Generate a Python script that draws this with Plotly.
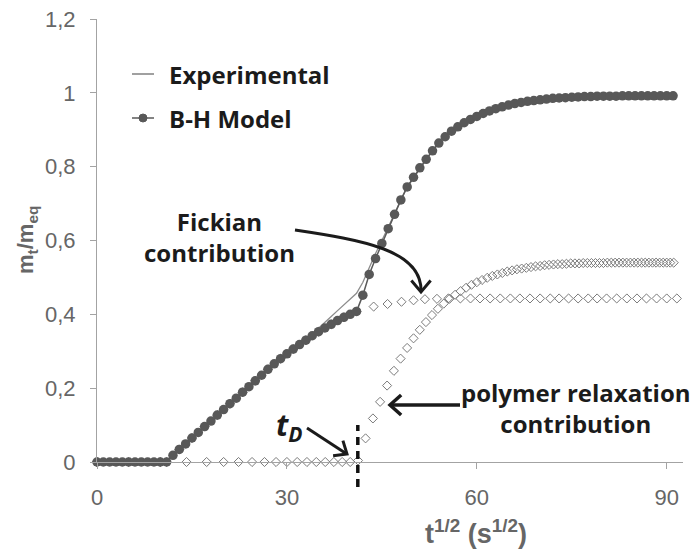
import math
import plotly.graph_objects as go

# ---------------------------------------------------------------- data
# B-H model, sampled at integer t^1/2 (s^1/2)
bh_x = list(range(0, 92))
bh_y = [0, 0, 0, 0, 0, 0, 0, 0, 0, 0, 0, 0,
        0.018, 0.034, 0.049, 0.065, 0.080, 0.096, 0.111, 0.127, 0.142, 0.158,
        0.173, 0.189, 0.204, 0.220, 0.235, 0.251, 0.266, 0.280, 0.293, 0.306,
        0.318, 0.330, 0.342, 0.353, 0.363, 0.373, 0.383, 0.392, 0.400, 0.408,
        0.452, 0.508, 0.551, 0.592, 0.632, 0.671, 0.710, 0.745, 0.771, 0.797,
        0.820, 0.843, 0.864, 0.881, 0.896, 0.908, 0.919, 0.928, 0.936, 0.944,
        0.951, 0.957, 0.962, 0.967, 0.971, 0.974, 0.977, 0.979, 0.981, 0.983,
        0.985, 0.986, 0.987, 0.988, 0.989, 0.990, 0.990, 0.991, 0.991, 0.991,
        0.991, 0.992, 0.992, 0.992, 0.992, 0.992, 0.992, 0.992, 0.992, 0.992]

# Experimental uptake
exp_x = list(range(0, 92))
exp_y = [0, 0, 0, 0, 0, 0, 0, 0, 0, 0, 0, 0,
         0.018, 0.034, 0.049, 0.065, 0.080, 0.096, 0.111, 0.127, 0.142, 0.158,
         0.173, 0.189, 0.204, 0.220, 0.235, 0.251, 0.266, 0.280, 0.293, 0.306,
         0.318, 0.332, 0.347, 0.362, 0.378, 0.394, 0.410, 0.425, 0.440, 0.457,
         0.487, 0.527, 0.565, 0.600, 0.636, 0.672, 0.710, 0.745, 0.771, 0.797,
         0.820, 0.843, 0.864, 0.881, 0.896, 0.908, 0.919, 0.928, 0.936, 0.944,
         0.951, 0.957, 0.962, 0.967, 0.971, 0.974, 0.977, 0.979, 0.981, 0.983,
         0.985, 0.986, 0.987, 0.988, 0.989, 0.990, 0.990, 0.991, 0.991, 0.991,
         0.991, 0.992, 0.992, 0.992, 0.992, 0.992, 0.992, 0.992, 0.992, 0.992]

# Polymer relaxation contribution, sampled every 100 s
relax_t = list(range(0, 8400, 100))
relax_x = [math.sqrt(t) for t in relax_t]
relax_y = [0, 0, 0, 0, 0, 0, 0, 0, 0, 0, 0, 0, 0, 0, 0, 0, 0,
           0.004, 0.064, 0.118, 0.163, 0.207, 0.247, 0.280, 0.309, 0.335, 0.358,
           0.379, 0.398, 0.415, 0.429, 0.442, 0.453, 0.463, 0.472, 0.480, 0.487,
           0.493, 0.499, 0.504, 0.508, 0.512, 0.516, 0.519, 0.522, 0.524, 0.526,
           0.528, 0.530, 0.531, 0.533, 0.534, 0.535, 0.536, 0.536, 0.537, 0.538,
           0.538, 0.538, 0.539, 0.539,
           0.539, 0.539, 0.539, 0.539, 0.540, 0.540, 0.540, 0.540, 0.540, 0.540,
           0.540, 0.540, 0.540, 0.540, 0.540, 0.540, 0.540, 0.540, 0.540, 0.540,
           0.540, 0.540, 0.540]

# Fickian contribution
fick_x = [0, 5, 10, 11, 13, 15, 17, 19, 21, 23, 25, 27, 29, 31, 33, 35, 37, 39, 41,
          43.7, 45.9, 48.1, 50.0, 51.8, 53.7, 55.5, 57.4, 59.0, 60.5, 62.1, 63.7,
          65.3, 66.8, 68.4, 70.0, 71.6, 73.0, 74.5, 76.0, 77.6, 79.0, 80.5, 82.1,
          83.7, 85.3, 86.8, 88.4, 90.0, 91.6]
fick_y = [0, 0, 0, 0, 0.034, 0.065, 0.096, 0.127, 0.158, 0.189, 0.220, 0.251,
          0.280, 0.306, 0.330, 0.353, 0.373, 0.392, 0.408,
          0.421, 0.428, 0.434, 0.438, 0.441, 0.442, 0.443, 0.443, 0.443, 0.443,
          0.443, 0.443, 0.443, 0.443, 0.443, 0.443, 0.443, 0.443, 0.443, 0.443,
          0.443, 0.443, 0.443, 0.443, 0.443, 0.443, 0.443, 0.443, 0.443, 0.443]

t_D = 41.2  # onset of relaxation, s^1/2

x_ticks = [0, 30, 60, 90]
y_ticks = [0, 0.2, 0.4, 0.6, 0.8, 1.0, 1.2]
y_tick_text = ["0", "0,2", "0,4", "0,6", "0,8", "1", "1,2"]

# ---------------------------------------------------------------- layout helpers
W, H = 691, 551
ML, MR, MT, MB = 97, 8, 19, 89
PL, PR, PT, PB = ML, W - MR, MT, H - MB


def fx(p):
    return (p - PL) / (PR - PL)


def fy(p):
    return (PB - p) / (PB - PT)


def pt(x, y):
    return f"{fx(x):.5f},{fy(y):.5f}"


def chevron(tip, frm, arm=14, ang=40):
    dx, dy = tip[0] - frm[0], tip[1] - frm[1]
    n = math.hypot(dx, dy)
    ux, uy = dx / n, dy / n
    pts = []
    for s in (1, -1):
        a = math.radians(ang * s)
        rx = ux * math.cos(a) - uy * math.sin(a)
        ry = ux * math.sin(a) + uy * math.cos(a)
        pts.append((tip[0] - arm * rx, tip[1] - arm * ry))
    return f"M {pt(*pts[0])} L {pt(*tip)} L {pt(*pts[1])}"


INK = "#1b1b1b"
GREY_TXT = "#666666"
AXIS = "#a3a3a3"

fig = go.Figure()

fig.add_trace(go.Scatter(
    x=fick_x, y=fick_y, mode="markers", name="Fickian",
    marker=dict(symbol="diamond-open", size=7, color="#7a7a7a",
                line=dict(width=1, color="#7a7a7a")),
    cliponaxis=False))
fig.add_trace(go.Scatter(
    x=relax_x, y=relax_y, mode="markers", name="Relaxation",
    marker=dict(symbol="diamond-open", size=7, color="#7a7a7a",
                line=dict(width=1, color="#7a7a7a")),
    cliponaxis=False))
fig.add_trace(go.Scatter(
    x=exp_x, y=exp_y, mode="lines", name="Experimental",
    line=dict(color="#8c8c8c", width=1.3), cliponaxis=False))
fig.add_trace(go.Scatter(
    x=bh_x, y=bh_y, mode="lines+markers", name="B-H Model",
    line=dict(color="#5a5a5a", width=1.5),
    marker=dict(symbol="circle", size=9.5, color="#585858"),
    cliponaxis=False))

shapes = []
# t_D marker line
shapes.append(dict(type="line", xref="x", yref="paper", x0=t_D, x1=t_D,
                   y0=fy(487), y1=fy(425),
                   line=dict(color="#111111", width=3.5, dash="8px,6px")))

# legend glyphs
shapes.append(dict(type="line", xref="paper", yref="paper",
                   x0=fx(132), x1=fx(154), y0=fy(74), y1=fy(74),
                   line=dict(color="#a0a0a0", width=2)))
shapes.append(dict(type="line", xref="paper", yref="paper",
                   x0=fx(132), x1=fx(154), y0=fy(118), y1=fy(118),
                   line=dict(color="#5a5a5a", width=1.5)))
shapes.append(dict(type="circle", xref="paper", yref="paper",
                   x0=fx(139), x1=fx(147), y0=fy(114), y1=fy(122),
                   fillcolor="#585858", line=dict(color="#585858", width=1)))

# Fickian arrow (curved)
arrow_line = dict(color=INK, width=3)
shapes.append(dict(type="path", xref="paper", yref="paper",
                   path=f"M {pt(295, 230)} C {pt(362, 240)} {pt(421, 250)} {pt(421, 290)}",
                   line=arrow_line))
shapes.append(dict(type="path", xref="paper", yref="paper",
                   path=chevron((421, 292), (421, 270), arm=15, ang=40), line=arrow_line))
# relaxation arrow
shapes.append(dict(type="path", xref="paper", yref="paper",
                   path=f"M {pt(460, 405)} L {pt(391, 405)}", line=dict(color=INK, width=3.5)))
shapes.append(dict(type="path", xref="paper", yref="paper",
                   path=chevron((390, 405), (460, 405), arm=15, ang=42),
                   line=dict(color=INK, width=3.5)))
# t_D arrow
shapes.append(dict(type="path", xref="paper", yref="paper",
                   path=f"M {pt(307, 428)} L {pt(346, 453.5)}", line=arrow_line))
shapes.append(dict(type="path", xref="paper", yref="paper",
                   path=chevron((347, 454), (307, 428), arm=14, ang=40), line=arrow_line))

LBL = dict(family="Open Sans", size=24, color=INK)
annotations = [
    dict(text="<b>Experimental</b>", x=fx(167), y=fy(74), xanchor="left", yanchor="middle",
         font=LBL),
    dict(text="<b>B-H Model</b>", x=fx(167), y=fy(118), xanchor="left", yanchor="middle",
         font=LBL),
    dict(text="<b>Fickian</b><br><b>contribution</b>", x=fx(219), y=fy(237),
         xanchor="center", yanchor="middle", font=LBL),
    dict(text="<b>polymer relaxation</b><br><b>contribution</b>", x=fx(576), y=fy(408),
         xanchor="center", yanchor="middle", font=LBL),
    dict(text="<b><i>t<sub>D</sub></i></b>", x=fx(274), y=fy(426), xanchor="left",
         yanchor="middle", font=dict(family="Open Sans", size=30, color=INK)),
    dict(text="<b>t<sup>1/2</sup> (s<sup>1/2</sup>)</b>", x=fx(476), y=fy(532),
         xanchor="center", yanchor="middle",
         font=dict(family="Liberation Sans Narrow, Liberation Sans", size=27, color=GREY_TXT)),
    dict(text="<b>m<sub>t</sub>/m<sub>eq</sub></b>", x=fx(27), y=fy(240), textangle=-90,
         xanchor="center", yanchor="middle",
         font=dict(family="Liberation Sans", size=22, color=GREY_TXT)),
]
for a in annotations:
    a.update(xref="paper", yref="paper", showarrow=False)

tickfont = dict(family="Liberation Sans, Arial", size=22, color=GREY_TXT)
fig.update_layout(
    width=W, height=H,
    margin=dict(l=ML, r=MR, t=MT, b=MB, pad=0),
    paper_bgcolor="white", plot_bgcolor="white",
    showlegend=False,
    shapes=shapes, annotations=annotations,
    xaxis=dict(range=[0, 92.57], tickvals=x_ticks, ticks="outside", ticklen=6,
               tickcolor=AXIS, showline=True, linecolor=AXIS, linewidth=1,
               showgrid=False, zeroline=False, tickfont=tickfont, ticklabelstandoff=10),
    yaxis=dict(range=[0, 1.2], tickvals=y_ticks, ticktext=y_tick_text, ticks="outside",
               ticklen=6, tickcolor=AXIS, showline=True, linecolor=AXIS, linewidth=1,
               showgrid=False, zeroline=False, tickfont=tickfont, ticklabelstandoff=10),
)

fig.write_html("out.html")
